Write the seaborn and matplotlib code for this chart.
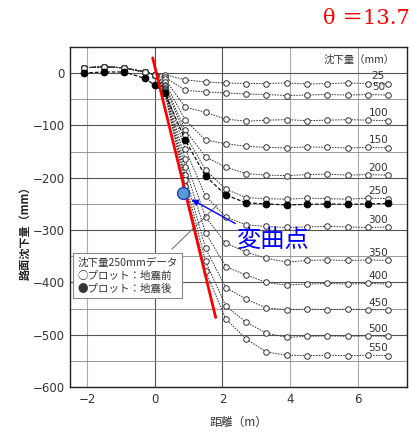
import matplotlib
matplotlib.use("Agg")
import matplotlib.pyplot as plt
import seaborn as sns
import pandas as pd

# ---------------- data ----------------
distance = [-2.1, -1.5, -0.9, -0.3, 0.0, 0.3, 0.9, 1.5, 2.1, 2.7, 3.3, 3.9, 4.5, 5.1, 5.7, 6.3, 6.9]

left_open = [10, 12, 10, 2, -3]
s25 = left_open + [-3, -13, -17, -19, -20, -20, -19, -21, -20, -19, -20, -21]
s50 = left_open + [-8, -33, -36, -38, -40, -41, -43, -42, -41, -42, -41, -42]
s100 = left_open + [-12, -65, -75, -88, -92, -90, -89, -91, -90, -89, -90, -91]
s150 = left_open + [-18, -90, -128, -135, -140, -142, -143, -141, -142, -143, -142, -143]
s200 = left_open + [-22, -109, -160, -180, -192, -195, -196, -194, -193, -195, -194, -195]
s250_before = left_open + [-25, -118, -185, -222, -238, -240, -241, -239, -240, -241, -239, -240]
s300 = left_open + [-28, -145, -235, -275, -290, -293, -295, -294, -293, -294, -295, -294]
s350 = left_open + [-30, -165, -275, -325, -342, -354, -361, -358, -357, -358, -357, -358]
s400 = left_open + [-32, -180, -305, -370, -386, -400, -405, -403, -402, -403, -402, -403]
s450 = left_open + [-34, -195, -335, -410, -432, -449, -452, -451, -452, -451, -452, -452]
s500 = left_open + [-36, -205, -360, -445, -476, -497, -505, -503, -502, -503, -502, -503]
s550 = left_open + [-38, -215, -378, -470, -508, -533, -539, -540, -539, -540, -539, -540]
s250_after = [0, 2, 2, -10, -23, -38, -128, -197, -233, -248, -250, -252, -251, -250, -251, -250, -249]

open_series = [s25, s50, s100, s150, s200, s250_before, s300, s350, s400, s450, s500, s550]
curve_labels = ["25", "50", "100", "150", "200", "250", "300", "350", "400", "450", "500", "550"]

x_ticks = [-2, 0, 2, 4, 6]
y_ticks = [0, -100, -200, -300, -400, -500, -600]

tangent_x = [-0.06, 1.8]
tangent_y = [29, -467]
inflection_x = 0.83
inflection_y = -229

# ---------------- figure ----------------
sns.set_style("white")
plt.rcParams["font.family"] = ["Noto Sans CJK JP", "DejaVu Sans"]

fig = plt.figure(figsize=(4.12, 4.34), dpi=100)
ax = fig.add_axes([0.170, 0.108, 0.818, 0.784])

line_kw = dict(color="#333333", lw=0.7, linestyle=(0, (1.6, 1.2)),
               marker="o", markersize=4.0, markerfacecolor="white",
               markeredgecolor="#333333", markeredgewidth=0.7)

for vals, lab in zip(open_series, curve_labels):
    df = pd.DataFrame({"distance": distance, "settlement": vals})
    sns.lineplot(data=df, x="distance", y="settlement", ax=ax, sort=False,
                 estimator=None, zorder=3, **line_kw)
    ax.text(6.6, vals[-2] + 4, lab, fontsize=7.5, ha="center", va="bottom",
            color="#333333", zorder=5, family="DejaVu Sans")

df_after = pd.DataFrame({"distance": distance, "settlement": s250_after})
sns.lineplot(data=df_after, x="distance", y="settlement", ax=ax, sort=False,
             estimator=None, color="#111111", lw=0.9, linestyle=(0, (3, 1.5)),
             marker="o", markersize=4.8, markerfacecolor="black",
             markeredgecolor="black", zorder=4)

ax.set_xlim(-2.5, 7.45)
ax.set_ylim(-600, 50)
ax.set_xticks(x_ticks)
ax.set_yticks(y_ticks)
ax.set_yticks(list(range(-550, 50, 100)), minor=True)
ax.tick_params(axis="both", labelsize=8.5, colors="#333333", length=0, pad=4)
ax.tick_params(axis="y", which="minor", length=0)
for t in ax.get_xticklabels() + ax.get_yticklabels():
    t.set_family("DejaVu Sans")
    t.set_color("#333333")

ax.grid(True, which="major", axis="y", color="#555555", lw=0.8)
ax.grid(True, which="minor", axis="y", color="#888888", lw=0.6)
ax.grid(True, which="major", axis="x", color="#aaaaaa", lw=0.8)
for gl, xv in zip(ax.get_xgridlines(), x_ticks):
    if xv in (0, 2):
        gl.set_color("#555555")
ax.set_axisbelow(True)
for sp in ax.spines.values():
    sp.set_color("#222222")
    sp.set_linewidth(1.0)

ax.set_xlabel("距離（m）", fontsize=8.5, color="#333333", labelpad=7)
ax.set_ylabel("路面沈下量（mm）", fontsize=8, color="#222222", fontweight="bold")
ax.yaxis.set_label_coords(-0.115, 0.46)

# header inside axes
ax.text(7.1, 25, "沈下量（mm）", fontsize=7.5, ha="right", va="center", color="#333333")

# legend box
ax.text(-2.28, -387, "沈下量250mmデータ\n○プロット：地震前\n●プロット：地震後",
        fontsize=7.6, ha="left", va="center", color="#333333", linespacing=1.3,
        bbox=dict(boxstyle="square,pad=0.4", fc="white", ec="#888888", lw=0.8),
        zorder=6)
ax.annotate("", xy=(1.9, -249), xytext=(0.45, -340),
            arrowprops=dict(arrowstyle="-", color="#777777", lw=0.8), zorder=6)

# tangent line & inflection point
ax.plot(tangent_x, tangent_y, color="red", lw=2.0, zorder=7)
ax.plot([inflection_x], [inflection_y], marker="o", markersize=8.5,
        markerfacecolor="#5b9bd5", markeredgecolor="#1f3fbf", markeredgewidth=1.0, zorder=8)
ax.annotate("", xy=(1.02, -239), xytext=(2.45, -290),
            arrowprops=dict(arrowstyle="-|>", color="blue", lw=1.0, mutation_scale=9), zorder=8)
ax.text(2.42, -318, "変曲点", fontsize=17.5, color="blue", ha="left", va="center", zorder=8)

# theta
fig.text(0.995, 1 - 18 / 434, "θ ＝13.7", fontsize=15, color="red", ha="right",
         va="center", family=["DejaVu Serif", "Noto Sans CJK JP"])

fig.savefig("out.png", dpi=100)
